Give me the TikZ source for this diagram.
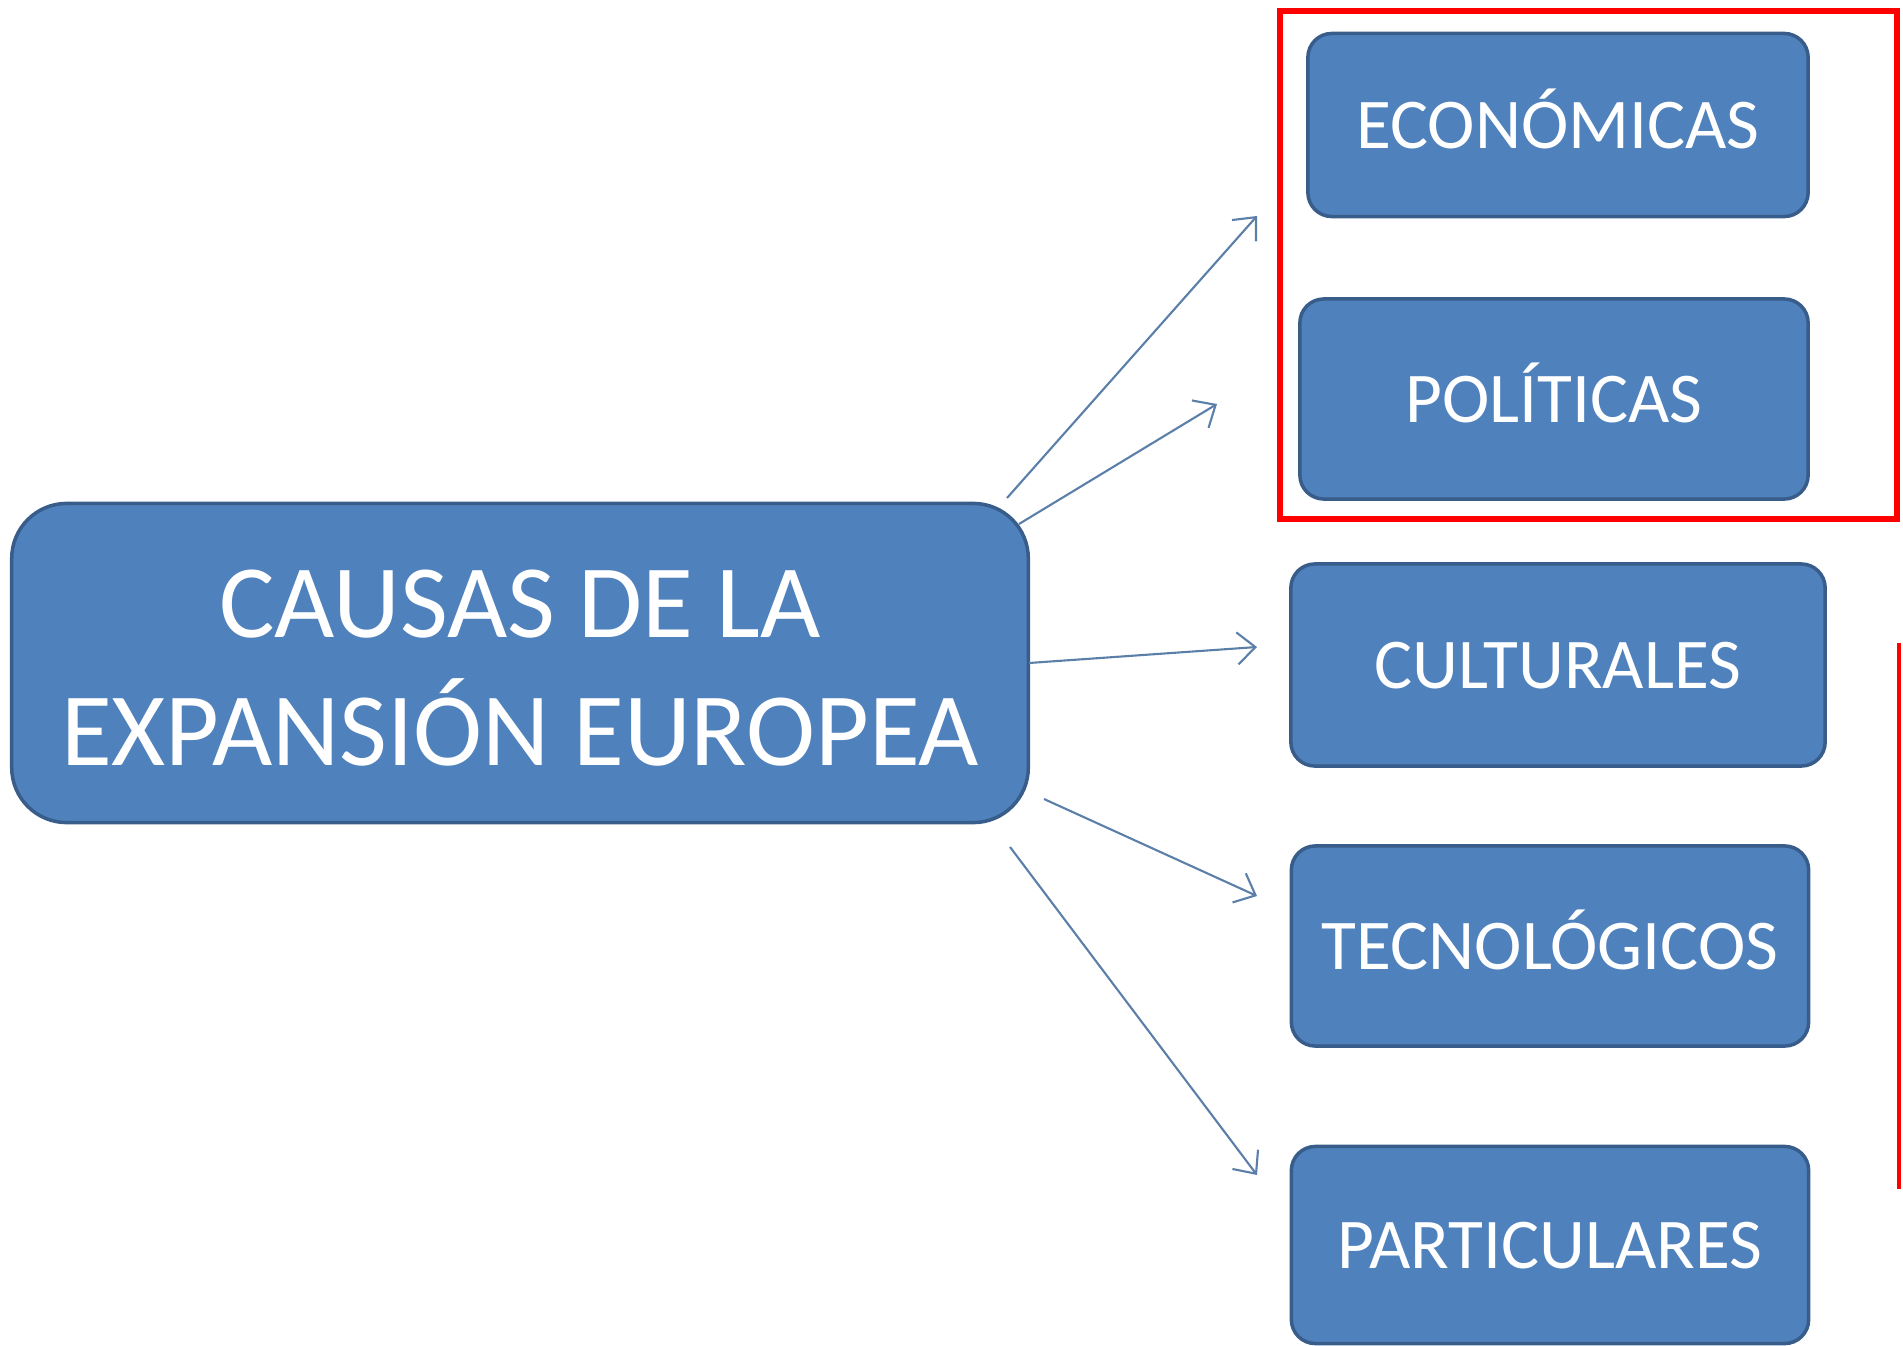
\documentclass[tikz,border=0pt]{standalone}
\usepackage{fontspec}
\setmainfont{Carlito}
\usetikzlibrary{arrows.meta}
\definecolor{boxblue}{HTML}{4F81BD}
\definecolor{boxedge}{HTML}{385D8A}
\definecolor{arrowblue}{HTML}{5B7FA8}
\begin{document}
\begin{tikzpicture}[x=0.01cm, y=-0.01cm, >={Straight Barb[length=1.8mm, width=3.2mm]},
  causa/.style={draw=boxedge, line width=1pt, fill=boxblue, text=white, rounded corners=0.24cm,
    font=\fontsize{20.3}{24}\selectfont, inner sep=0pt, text height=13.1pt, text depth=0pt},
  flecha/.style={->, draw=arrowblue, line width=0.6pt}]
\useasboundingbox (0,0) rectangle (1903,1346);
% central box
\node[draw=boxedge, line width=1pt, fill=boxblue, text=white, rounded corners=0.55cm,
  minimum width=10.16cm, minimum height=3.19cm, align=center, text height=58.5pt, text depth=0pt,
  font=\fontsize{29.6}{36.4}\selectfont] (main) at (520,663) {CAUSAS DE LA\\EXPANSIÓN EUROPEA};
% causes
\node[causa, minimum width=5cm, minimum height=1.83cm] (econ) at (1558,125) {ECONÓMICAS};
\node[causa, minimum width=5.08cm, minimum height=2cm] (pol) at (1554,399) {POLÍTICAS};
\node[causa, minimum width=5.34cm, minimum height=2.02cm] (cult) at (1558,665) {CULTURALES};
\node[causa, minimum width=5.17cm, minimum height=2cm] (tec) at (1550,946) {TECNOLÓGICOS};
\node[causa, minimum width=5.17cm, minimum height=1.97cm] (part) at (1550,1245) {PARTICULARES};
% arrow ends
\coordinate (s1) at (1007,498);  \coordinate (e1) at (1257,216);
\coordinate (s2) at (1019,524);  \coordinate (e2) at (1217,404);
\coordinate (s3) at (1029,663);  \coordinate (e3) at (1257,647);
\coordinate (s4) at (1044,799);  \coordinate (e4) at (1257,896);
\coordinate (s5) at (1010,847);  \coordinate (e5) at (1257,1175);
\foreach \i in {1,...,5}
  \draw[flecha] (s\i) -- (e\i);
% red marks
\draw[red, line width=1.7pt] (1280,11) rectangle (1897,519);
\coordinate (r1) at (1899,643);
\coordinate (r2) at (1899,1189);
\draw[red, line width=0.9pt] (r1) -- (r2);
\end{tikzpicture}
\end{document}
